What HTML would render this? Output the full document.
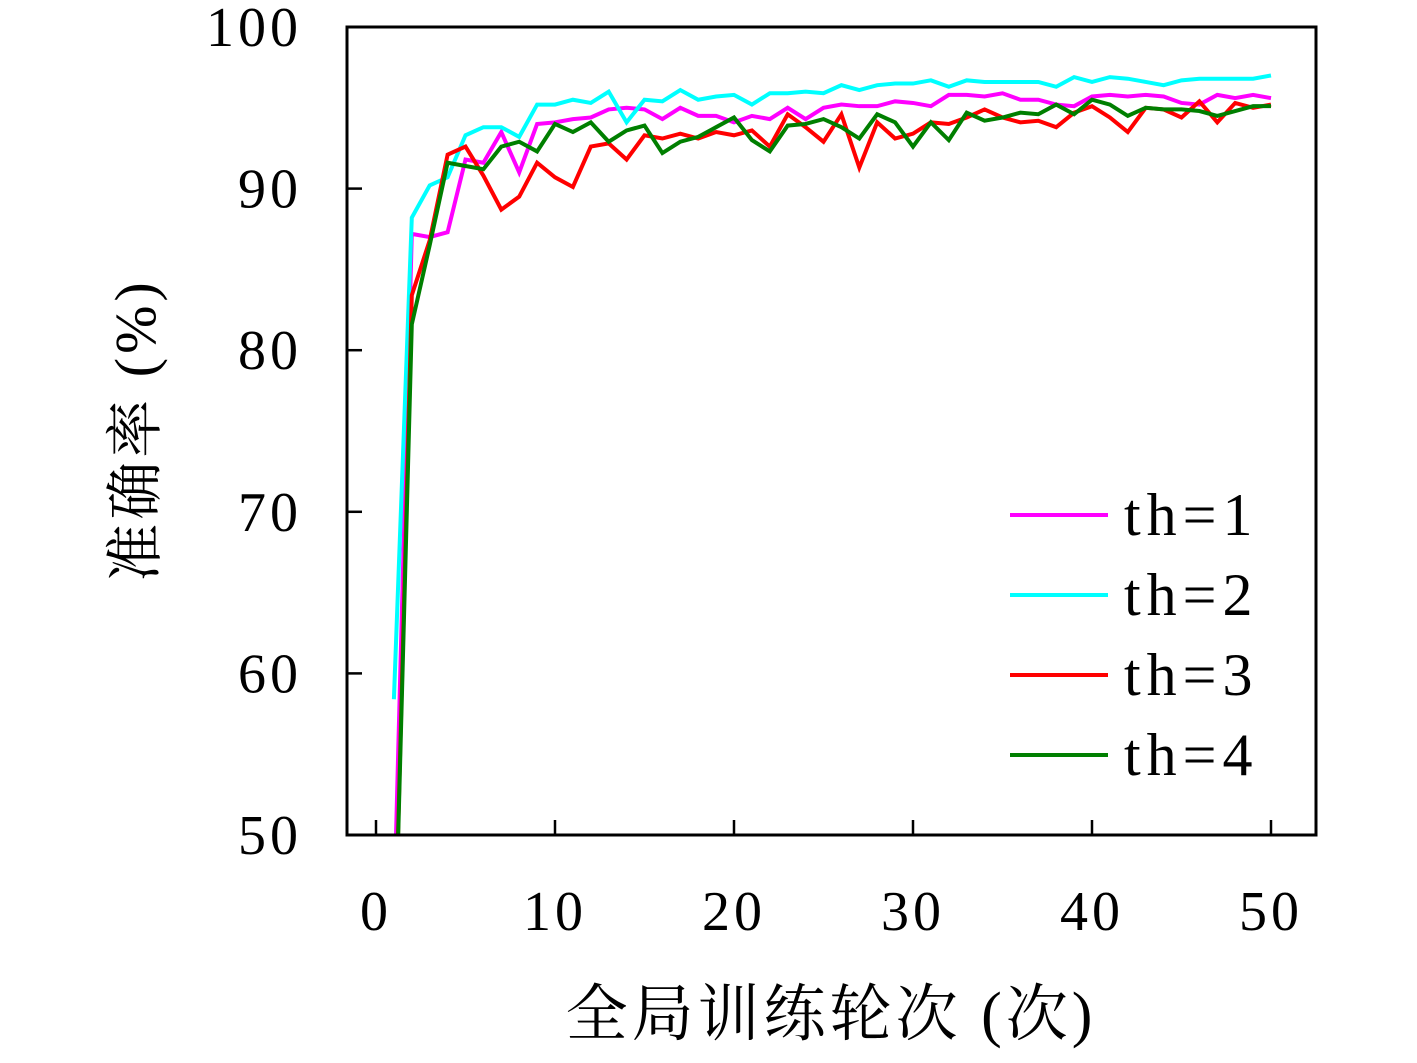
<!DOCTYPE html>
<html><head><meta charset="utf-8"><style>
body{margin:0;background:#fff;}
svg text{font-family:"Liberation Serif","Noto Serif CJK SC",serif;fill:#000;}
</style></head><body>
<svg width="1417" height="1058" viewBox="0 0 1417 1058" xmlns="http://www.w3.org/2000/svg">
<defs><clipPath id="clip"><rect x="347" y="27" width="969" height="808"/></clipPath></defs>
<g id="axes"></g>
<g id="lines" clip-path="url(#clip)"></g>
<rect x="347" y="27" width="969" height="808" fill="none" stroke="#000" stroke-width="3"/>
<text x="155" y="430" font-size="58" letter-spacing="4" text-anchor="middle" transform="rotate(-90 155 430)">准确率 (%)</text>
<text x="831" y="1035" font-size="62" letter-spacing="4" text-anchor="middle">全局训练轮次 (次)</text>
<g id="legend"></g>
</svg>
<script>
const epochs=[];for(let i=1;i<=50;i++)epochs.push(i);
const xTicks=[0,10,20,30,40,50];
const yTicks=[50,60,70,80,90,100];
const seriesNames=["th=1","th=2","th=3","th=4"];
const seriesColors=["#ff00ff","#00ffff","#ff0000","#007f00"];
const th1=[45,87.2,87,87.3,91.8,91.6,93.5,91,94,94.1,94.3,94.4,94.9,95,94.9,94.3,95,94.5,94.5,94.1,94.5,94.3,95,94.3,95,95.2,95.1,95.1,95.4,95.3,95.1,95.8,95.8,95.7,95.9,95.5,95.5,95.2,95.1,95.7,95.8,95.7,95.8,95.7,95.3,95.2,95.8,95.6,95.8,95.6];
const th2=[58.4,88.2,90.2,90.7,93.3,93.8,93.8,93.2,95.2,95.2,95.5,95.3,96,94.1,95.5,95.4,96.1,95.5,95.7,95.8,95.2,95.9,95.9,96,95.9,96.4,96.1,96.4,96.5,96.5,96.7,96.3,96.7,96.6,96.6,96.6,96.6,96.3,96.9,96.6,96.9,96.8,96.6,96.4,96.7,96.8,96.8,96.8,96.8,97];
const th3=[40,83.4,86.8,92.1,92.6,90.8,88.7,89.5,91.6,90.7,90.1,92.6,92.8,91.8,93.3,93.1,93.4,93.1,93.5,93.3,93.6,92.6,94.6,93.8,92.9,94.6,91.3,94.1,93.1,93.4,94.1,94,94.4,94.9,94.4,94.1,94.2,93.8,94.7,95.1,94.4,93.5,95,94.9,94.4,95.4,94.1,95.3,95,95.2];
const th4=[40,81.6,86.5,91.6,91.4,91.2,92.6,92.9,92.3,94,93.5,94.1,92.9,93.6,93.9,92.2,92.9,93.2,93.8,94.4,93,92.3,93.9,94,94.3,93.8,93.1,94.6,94.1,92.6,94.1,93,94.7,94.2,94.4,94.7,94.6,95.2,94.6,95.5,95.2,94.5,95,94.9,94.9,94.8,94.5,94.8,95.1,95.1];
const allSeries=[th1,th2,th3,th4];
const NS="http://www.w3.org/2000/svg";
const X0=376,XS=17.9,Y0=835,YS=16.16;
const sx=v=>X0+v*XS, sy=v=>Y0-(v-50)*YS;
function mk(tag,attrs,parent){const e=document.createElementNS(NS,tag);for(const k in attrs)e.setAttribute(k,attrs[k]);parent.appendChild(e);return e;}
const axes=document.getElementById('axes');
xTicks.forEach(t=>{
 const l=mk('line',{x1:sx(t),x2:sx(t),y1:835,y2:820,stroke:'#000','stroke-width':2.5},axes);
 
 
 const tx=mk('text',{x:sx(t),y:930,'font-size':56,'letter-spacing':4,'text-anchor':'middle'},axes);tx.textContent=t;
 
 
});
yTicks.forEach(t=>{
 const l=mk('line',{x1:347,x2:362,y1:sy(t),y2:sy(t),stroke:'#000','stroke-width':2.5},axes);
 
 
 const tx=mk('text',{x:302,y:sy(t)+19,'font-size':56,'letter-spacing':4,'text-anchor':'end'},axes);tx.textContent=t;
 
 
});
const lines=document.getElementById('lines');
allSeries.forEach((s,i)=>{
 const pts=s.map((v,j)=>sx(epochs[j])+','+sy(v)).join(' ');
 const p=mk('polyline',{points:pts,fill:'none',stroke:seriesColors[i],'stroke-width':4,'stroke-linejoin':'miter'},lines);
 
 
});
const lg=document.getElementById('legend');
seriesNames.forEach((n,i)=>{
 const y=515+i*80;
 const l=mk('line',{x1:1010,x2:1108,y1:y,y2:y,stroke:seriesColors[i],'stroke-width':4},lg);
 
 
 const t=mk('text',{x:1124,y:y+20,'font-size':60,'letter-spacing':6},lg);t.textContent=n;
 
 
});
</script>
</body></html>
